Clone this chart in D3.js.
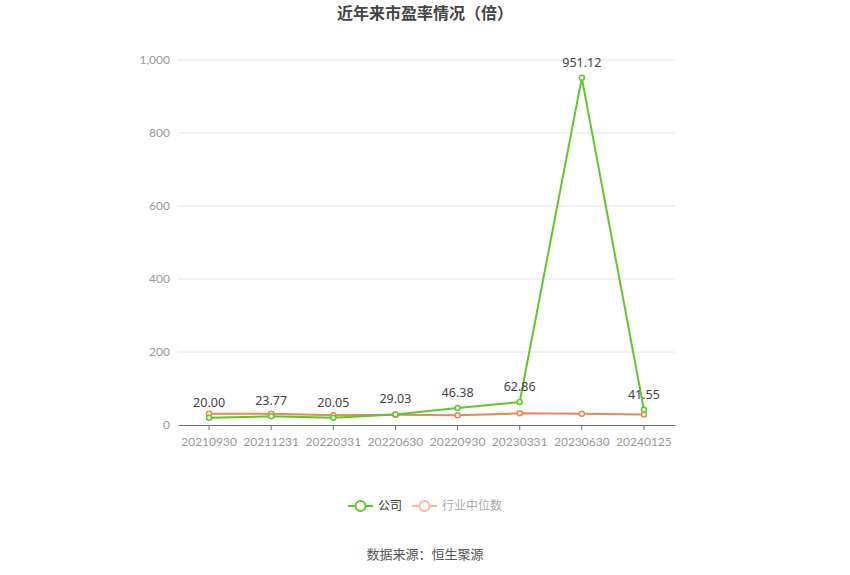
<!DOCTYPE html>
<html>
<head>
<meta charset="utf-8">
<script src="https://cdn.jsdelivr.net/npm/d3@7"></script>
<style>
  body { margin: 0; background: #fff; }
  svg { font-family: "Noto Sans CJK SC", "Microsoft YaHei", sans-serif; }
</style>
</head>
<body>
<div id="chart"></div>
<script>
// data
var dates = ['20210930', '20211231', '20220331', '20220630', '20220930', '20230331', '20230630', '20240125'];
var company = [20.00, 23.77, 20.05, 29.03, 46.38, 62.86, 951.12, 41.55];
var industry = [31, 31, 26.5, 28, 26.5, 32, 31, 29];
var yTicks = [0, 200, 400, 600, 800, 1000];

var width = 850, height = 575;
var plotLeft = 178, plotRight = 675, plotTop = 60, plotBottom = 425;
var green = '#5fc72c', orange = '#f58450';

var svg = d3.select('#chart').append('svg').attr('width', width).attr('height', height);

// title
svg.append('text').attr('x', 425).attr('y', 19).attr('text-anchor', 'middle')
  .attr('font-size', 16).attr('font-weight', 'bold').attr('fill', '#444')
  .text('近年来市盈率情况（倍）');

var x = d3.scaleBand().domain(dates).range([plotLeft, plotRight]);
var y = d3.scaleLinear().domain([0, 1000]).range([plotBottom, plotTop]);

// grid lines
svg.append('g').selectAll('line').data(yTicks.filter(d => d > 0)).enter().append('line')
  .attr('x1', plotLeft).attr('x2', plotRight)
  .attr('y1', d => y(d)).attr('y2', d => y(d))
  .attr('stroke', '#e0e6f1');

// y axis labels
svg.append('g').selectAll('text').data(yTicks).enter().append('text')
  .attr('x', plotLeft - 8).attr('y', d => y(d)).attr('dy', '0.35em')
  .attr('text-anchor', 'end').attr('font-size', 12).attr('fill', '#999')
  .attr('font-family', 'Lato, sans-serif')
  .text(d => d3.format(',')(d));

// x axis
var xAxis = svg.append('g').attr('transform', 'translate(0,' + plotBottom + ')')
  .call(d3.axisBottom(x).tickSize(5).tickSizeOuter(0));
xAxis.select('.domain').attr('stroke', '#6e7079');
xAxis.selectAll('.tick line').attr('stroke', '#6e7079');
xAxis.selectAll('.tick text').attr('fill', '#999').attr('font-size', 12)
  .attr('font-family', 'Lato, sans-serif').attr('dy', '1.05em');

var cx = d => x(d) + x.bandwidth() / 2;
var line = d3.line().x((d, i) => cx(dates[i])).y(d => y(d));

// industry series
svg.append('path').datum(industry).attr('d', line)
  .attr('fill', 'none').attr('stroke', orange).attr('stroke-width', 2);
svg.append('g').selectAll('circle').data(industry).enter().append('circle')
  .attr('cx', (d, i) => cx(dates[i])).attr('cy', d => y(d)).attr('r', 2.5)
  .attr('fill', '#fff').attr('stroke', orange).attr('stroke-width', 1.5);

// company series
svg.append('path').datum(company).attr('d', line)
  .attr('fill', 'none').attr('stroke', green).attr('stroke-width', 2);
svg.append('g').selectAll('circle').data(company).enter().append('circle')
  .attr('cx', (d, i) => cx(dates[i])).attr('cy', d => y(d)).attr('r', 2.5)
  .attr('fill', '#fff').attr('stroke', green).attr('stroke-width', 1.5);

// value labels for company, sitting above each own point
svg.append('g').selectAll('text').data(company).enter().append('text')
  .attr('x', (d, i) => cx(dates[i]))
  .attr('y', d => y(d) - 11)
  .attr('text-anchor', 'middle').attr('font-size', 12.5).attr('fill', '#444')
  .attr('font-family', '"Noto Sans", sans-serif')
  .text(d => d.toFixed(2));

// legend
var legend = svg.append('g').attr('transform', 'translate(348,506)');
var items = [
  { name: '公司', color: green, text: '#333' },
  { name: '行业中位数', color: '#fbb8a0', text: '#aaa' }
];
var lx = 0;
items.forEach(function(it) {
  var g = legend.append('g').attr('transform', 'translate(' + lx + ',0)');
  g.append('line').attr('x1', 0).attr('x2', 25).attr('stroke', it.color).attr('stroke-width', 2);
  g.append('circle').attr('cx', 12.5).attr('r', 5).attr('fill', '#fff')
    .attr('stroke', it.color).attr('stroke-width', 2);
  g.append('text').attr('x', 30).attr('dy', '0.35em').attr('font-size', 12)
    .attr('fill', it.text).text(it.name);
  lx += 30 + it.name.length * 12 + 10;
});

// source
svg.append('text').attr('x', 425).attr('y', 559).attr('text-anchor', 'middle')
  .attr('font-size', 13).attr('fill', '#555').text('数据来源：恒生聚源');
</script>
</body>
</html>
